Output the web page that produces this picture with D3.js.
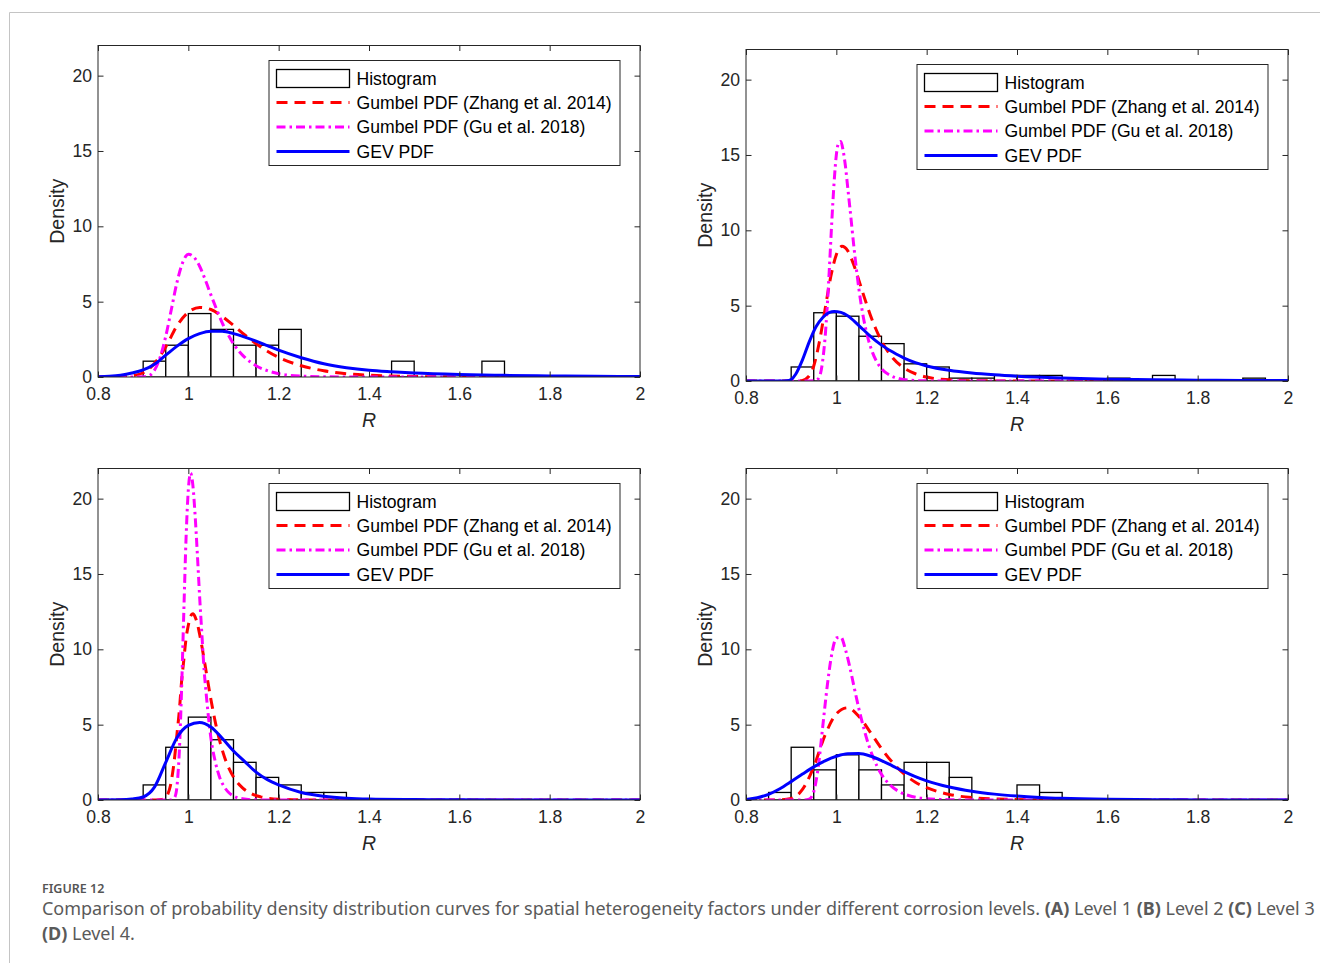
<!DOCTYPE html>
<html>
<head>
<meta charset="utf-8">
<script src="https://cdn.jsdelivr.net/npm/d3@7"></script>
<style>
  body { margin: 0; background: #fff; }
</style>
</head>
<body>
<svg id="fig" width="1320" height="963"></svg>
<script>
// ---------- axis ticks and legend text ----------
const xTicks = [0.8, 1.0, 1.2, 1.4, 1.6, 1.8, 2.0];
const yTicks = [0, 5, 10, 15, 20];
const legendLabels = ["Histogram", "Gumbel PDF (Zhang et al. 2014)", "Gumbel PDF (Gu et al. 2018)", "GEV PDF"];

// ---------- histogram densities (bin width 0.05) ----------
const binWidth = 0.05;
const histStartA = 0.90;
const histA = [1.05, 2.11, 4.21, 3.16, 2.11, 2.11, 3.16, 0, 0, 0, 0, 1.05, 0, 0, 0, 1.05];
const histStartB = 0.90;
const histB = [0.93, 4.53, 4.30, 2.97, 2.48, 1.14, 0.93, 0.19, 0.19, 0.37, 0.37, 0.37, 0, 0, 0.19, 0, 0.37, 0, 0, 0, 0.19];
const histStartC = 0.90;
const histC = [1.0, 3.5, 5.5, 4.0, 2.5, 1.5, 1.0, 0.5, 0.5];
const histStartD = 0.85;
const histD = [0.5, 3.5, 2.0, 3.0, 2.0, 1.0, 2.5, 2.5, 1.5, 0, 0, 1.0, 0.5];

// ---------- Level 1 curves ----------
const zhangA_R = [0.80, 0.85, 0.875, 0.90, 0.925, 0.95, 0.975, 1.00, 1.025, 1.05, 1.075, 1.10, 1.125, 1.15, 1.175, 1.20, 1.25, 1.30, 1.35, 1.40, 1.50, 1.60, 1.80, 2.00];
const zhangA_D = [0, 0.01, 0.08, 0.28, 0.9, 2.0, 3.4, 4.3, 4.62, 4.48, 4.02, 3.42, 2.79, 2.21, 1.71, 1.30, 0.75, 0.41, 0.22, 0.12, 0.035, 0.01, 0, 0];
const guA_R = [0.80, 0.90, 0.915, 0.925, 0.9375, 0.95, 0.9625, 0.975, 0.9875, 1.00, 1.0125, 1.025, 1.0375, 1.05, 1.0625, 1.075, 1.0875, 1.10, 1.1125, 1.125, 1.15, 1.175, 1.20, 1.25, 1.30, 1.40, 2.00];
const guA_D = [0, 0.01, 0.12, 0.45, 1.3, 2.7, 4.5, 6.3, 7.6, 8.15, 7.95, 7.35, 6.45, 5.45, 4.5, 3.6, 2.85, 2.2, 1.7, 1.3, 0.75, 0.42, 0.22, 0.06, 0.015, 0, 0];
const gevA_R = [0.80, 0.825, 0.85, 0.875, 0.90, 0.925, 0.95, 0.975, 1.00, 1.025, 1.05, 1.075, 1.10, 1.125, 1.15, 1.175, 1.20, 1.25, 1.30, 1.35, 1.40, 1.45, 1.50, 1.60, 1.70, 1.80, 1.90, 2.00];
const gevA_D = [0.02, 0.05, 0.12, 0.26, 0.47, 0.85, 1.45, 2.05, 2.55, 2.88, 3.04, 3.03, 2.88, 2.65, 2.38, 2.08, 1.78, 1.28, 0.88, 0.62, 0.45, 0.35, 0.27, 0.17, 0.11, 0.07, 0.045, 0.03];

// ---------- Level 2 curves ----------
const zhangB_R = [0.80, 0.90, 0.925, 0.9375, 0.95, 0.9625, 0.975, 0.9875, 1.00, 1.0125, 1.025, 1.0375, 1.05, 1.0625, 1.075, 1.0875, 1.10, 1.1125, 1.125, 1.15, 1.175, 1.20, 1.25, 1.30, 1.40, 2.00];
const zhangB_D = [0, 0, 0.04, 0.26, 1.0, 2.6, 4.75, 6.9, 8.38, 8.94, 8.65, 7.8, 6.68, 5.5, 4.4, 3.45, 2.66, 2.03, 1.53, 0.86, 0.48, 0.26, 0.08, 0.02, 0, 0];
const guB_R = [0.80, 0.94, 0.95, 0.96, 0.965, 0.97, 0.975, 0.98, 0.985, 0.99, 0.995, 1.00, 1.005, 1.01, 1.015, 1.02, 1.025, 1.03, 1.04, 1.05, 1.06, 1.07, 1.08, 1.09, 1.10, 1.12, 1.14, 1.16, 1.20, 1.30, 2.00];
const guB_D = [0, 0, 0.01, 0.15, 0.5, 1.4, 2.85, 5.0, 7.7, 10.6, 13.15, 15.0, 15.8, 15.9, 15.3, 14.3, 12.9, 11.5, 8.6, 6.1, 4.2, 2.85, 1.9, 1.25, 0.82, 0.36, 0.15, 0.06, 0.01, 0, 0];
const gevB_R = [0.80, 0.88, 0.89, 0.90, 0.91, 0.925, 0.94, 0.955, 0.97, 0.985, 0.995, 1.01, 1.025, 1.05, 1.075, 1.10, 1.125, 1.15, 1.175, 1.20, 1.25, 1.30, 1.35, 1.40, 1.50, 1.60, 1.70, 1.80, 1.90, 2.00];
const gevB_D = [0, 0, 0.01, 0.1, 0.45, 1.4, 2.6, 3.6, 4.22, 4.55, 4.62, 4.55, 4.33, 3.68, 2.98, 2.38, 1.92, 1.52, 1.22, 1.0, 0.71, 0.53, 0.41, 0.32, 0.2, 0.12, 0.08, 0.05, 0.035, 0.025];

// ---------- Level 3 curves ----------
const zhangC_R = [0.80, 0.93, 0.94, 0.95, 0.955, 0.96, 0.965, 0.97, 0.975, 0.98, 0.985, 0.99, 0.995, 1.00, 1.005, 1.01, 1.015, 1.02, 1.025, 1.03, 1.04, 1.05, 1.06, 1.07, 1.08, 1.09, 1.10, 1.12, 1.14, 1.16, 1.20, 1.25, 1.30, 2.00];
const zhangC_D = [0, 0, 0.03, 0.16, 0.42, 0.91, 1.75, 2.92, 4.42, 5.9, 7.85, 9.3, 10.73, 11.6, 12.2, 12.36, 12.16, 11.7, 11.0, 10.2, 8.42, 6.67, 5.13, 3.86, 2.86, 2.1, 1.53, 0.8, 0.41, 0.21, 0.056, 0.01, 0, 0];
const guC_R = [0.80, 0.96, 0.965, 0.97, 0.975, 0.98, 0.985, 0.99, 0.995, 1.00, 1.005, 1.01, 1.015, 1.02, 1.025, 1.03, 1.035, 1.04, 1.05, 1.06, 1.07, 1.08, 1.09, 1.10, 1.12, 1.15, 1.20, 2.00];
const guC_D = [0, 0, 0.05, 0.18, 0.95, 3.2, 7.3, 12.5, 17.4, 20.6, 21.7, 20.9, 18.9, 16.3, 13.5, 11.0, 8.6, 6.9, 4.1, 2.5, 1.45, 0.85, 0.48, 0.27, 0.08, 0.01, 0, 0];
const gevC_R = [0.80, 0.85, 0.875, 0.90, 0.925, 0.95, 0.975, 1.00, 1.025, 1.05, 1.075, 1.10, 1.125, 1.15, 1.175, 1.20, 1.25, 1.30, 1.35, 1.40, 1.50, 1.60, 1.80, 2.00];
const gevC_D = [0, 0.01, 0.06, 0.2, 0.85, 2.5, 4.15, 4.95, 5.15, 4.85, 4.1, 3.25, 2.55, 1.85, 1.35, 1.0, 0.5, 0.25, 0.12, 0.06, 0.025, 0.01, 0, 0];

// ---------- Level 4 curves ----------
const zhangD_R = [0.80, 0.85, 0.875, 0.90, 0.925, 0.95, 0.975, 1.00, 1.025, 1.05, 1.075, 1.10, 1.125, 1.15, 1.175, 1.20, 1.25, 1.30, 1.35, 1.40, 1.50, 1.60, 2.00];
const zhangD_D = [0, 0, 0.01, 0.1, 0.7, 2.2, 4.3, 5.72, 6.12, 5.55, 4.51, 3.41, 2.47, 1.73, 1.18, 0.82, 0.37, 0.16, 0.07, 0.03, 0.006, 0, 0];
const guD_R = [0.80, 0.93, 0.94, 0.95, 0.96, 0.97, 0.98, 0.99, 1.00, 1.01, 1.02, 1.03, 1.04, 1.05, 1.06, 1.07, 1.08, 1.09, 1.10, 1.12, 1.14, 1.16, 1.18, 1.20, 1.25, 1.30, 2.00];
const guD_D = [0, 0, 0.06, 0.55, 2.2, 4.9, 7.6, 9.7, 10.75, 10.8, 10.0, 8.8, 7.4, 6.05, 4.85, 3.8, 2.95, 2.25, 1.7, 0.97, 0.54, 0.3, 0.16, 0.09, 0.02, 0, 0];
const gevD_R = [0.80, 0.825, 0.85, 0.875, 0.90, 0.925, 0.95, 0.975, 1.00, 1.025, 1.05, 1.075, 1.10, 1.125, 1.15, 1.175, 1.20, 1.25, 1.30, 1.35, 1.40, 1.45, 1.50, 1.60, 1.70, 1.80, 1.90, 2.00];
const gevD_D = [0.04, 0.15, 0.38, 0.75, 1.22, 1.72, 2.2, 2.6, 2.9, 3.07, 3.08, 2.92, 2.62, 2.25, 1.88, 1.55, 1.27, 0.86, 0.58, 0.39, 0.26, 0.17, 0.11, 0.045, 0.018, 0.007, 0.002, 0];

// ---------- panel placement ----------
const panels = [
  { x0: 98,  x1: 640,  y0: 45.5,  y1: 377,   histStart: histStartA, hist: histA,
    curves: [[zhangA_R, zhangA_D], [guA_R, guA_D], [gevA_R, gevA_D]] },
  { x0: 746, x1: 1288, y0: 49.5,  y1: 381,   histStart: histStartB, hist: histB,
    curves: [[zhangB_R, zhangB_D], [guB_R, guB_D], [gevB_R, gevB_D]] },
  { x0: 98,  x1: 640,  y0: 468.5, y1: 800,   histStart: histStartC, hist: histC,
    curves: [[zhangC_R, zhangC_D], [guC_R, guC_D], [gevC_R, gevC_D]] },
  { x0: 746, x1: 1288, y0: 468.5, y1: 800,   histStart: histStartD, hist: histD,
    curves: [[zhangD_R, zhangD_D], [guD_R, guD_D], [gevD_R, gevD_D]] }
];

const curveStyles = [
  { color: "#ff0000", dash: "11,7" },        // Gumbel (Zhang)
  { color: "#ff00ff", dash: "9,4,2.5,4" },   // Gumbel (Gu)
  { color: "#0000ff", dash: null }           // GEV
];

const axFont = "'Liberation Sans', Arial, Helvetica, sans-serif";
const axColor = "#262626";
const tickFs = 17.6;

const svg = d3.select("#fig");
svg.append("rect").attr("width", 1320).attr("height", 963).attr("fill", "#fff");

// page frame
svg.append("path")
  .attr("d", "M9.5,963 L9.5,12.5 L1320,12.5")
  .attr("fill", "none").attr("stroke", "#c4c4c4").attr("stroke-width", 1);

panels.forEach((p, idx) => {
  const x = d3.scaleLinear().domain([0.8, 2.0]).range([p.x0, p.x1]);
  const y = d3.scaleLinear().domain([0, 22]).range([p.y1, p.y0]);
  const g = svg.append("g");

  const clipId = "clip" + idx;
  svg.append("clipPath").attr("id", clipId)
    .append("rect").attr("x", p.x0).attr("y", p.y0)
    .attr("width", p.x1 - p.x0).attr("height", p.y1 - p.y0);

  const plot = g.append("g").attr("clip-path", `url(#${clipId})`);

  // histogram bars
  const bars = p.hist.map((v, i) => ({ lo: p.histStart + i * binWidth, v }))
    .filter(d => d.v > 0);
  plot.selectAll("rect.bar").data(bars).join("rect")
    .attr("class", "bar")
    .attr("x", d => x(d.lo))
    .attr("width", d => x(d.lo + binWidth) - x(d.lo))
    .attr("y", d => y(d.v))
    .attr("height", d => y(0) - y(d.v))
    .attr("fill", "#fff").attr("stroke", "#000").attr("stroke-width", 1.3);

  // density curves
  const line = d3.line().x(d => x(d[0])).y(d => y(d[1])).curve(d3.curveMonotoneX);
  p.curves.forEach((c, k) => {
    const st = curveStyles[k];
    plot.append("path")
      .datum(d3.zip(c[0], c[1]))
      .attr("d", line)
      .attr("fill", "none")
      .attr("stroke", st.color)
      .attr("stroke-width", 3)
      .attr("stroke-dasharray", st.dash)
      .attr("stroke-linejoin", "round");
  });

  // axes with inward ticks on all four sides
  const fmt = d3.format("~g");
  const styleAxis = sel => {
    sel.select(".domain").remove();
    sel.selectAll(".tick line").attr("stroke", axColor).attr("stroke-width", 1);
    sel.selectAll(".tick text").attr("fill", axColor)
      .attr("font-family", axFont).attr("font-size", tickFs);
  };
  g.append("g").attr("transform", `translate(0,${p.y1})`)
    .call(d3.axisBottom(x).tickValues(xTicks).tickFormat(fmt).tickSizeInner(-5.5).tickSizeOuter(0).tickPadding(10.5))
    .call(styleAxis);
  g.append("g").attr("transform", `translate(0,${p.y0})`)
    .call(d3.axisTop(x).tickValues(xTicks).tickFormat("").tickSizeInner(-5.5).tickSizeOuter(0))
    .call(styleAxis);
  g.append("g").attr("transform", `translate(${p.x0},0)`)
    .call(d3.axisLeft(y).tickValues(yTicks).tickFormat(fmt).tickSizeInner(-5.5).tickSizeOuter(0).tickPadding(6))
    .call(styleAxis);
  g.append("g").attr("transform", `translate(${p.x1},0)`)
    .call(d3.axisRight(y).tickValues(yTicks).tickFormat("").tickSizeInner(-5.5).tickSizeOuter(0))
    .call(styleAxis);

  // axes box
  g.append("rect")
    .attr("x", p.x0).attr("y", p.y0)
    .attr("width", p.x1 - p.x0).attr("height", p.y1 - p.y0)
    .attr("fill", "none").attr("stroke", axColor).attr("stroke-width", 1);

  // axis titles
  g.append("text")
    .attr("transform", `translate(${p.x0 - 41},${(p.y0 + p.y1) / 2}) rotate(-90)`)
    .attr("text-anchor", "middle").attr("dominant-baseline", "central")
    .attr("font-family", axFont).attr("font-size", 19.5).attr("fill", axColor)
    .text("Density");
  g.append("text")
    .attr("x", (p.x0 + p.x1) / 2).attr("y", p.y1 + 43)
    .attr("text-anchor", "middle").attr("dominant-baseline", "central")
    .attr("font-family", axFont).attr("font-size", 19.5).attr("font-style", "italic")
    .attr("fill", axColor)
    .text("R");

  // legend
  const lx = p.x1 - 371, ly = p.y0 + 15;
  const lg = g.append("g");
  lg.append("rect").attr("x", lx).attr("y", ly).attr("width", 351).attr("height", 105)
    .attr("fill", "#fff").attr("stroke", axColor).attr("stroke-width", 1);
  const rowY = [18, 42, 66.5, 91];
  legendLabels.forEach((lab, k) => {
    const cy = ly + rowY[k];
    if (k === 0) {
      lg.append("rect").attr("x", lx + 7.5).attr("y", cy - 9)
        .attr("width", 73).attr("height", 18)
        .attr("fill", "#fff").attr("stroke", "#000").attr("stroke-width", 1.3);
    } else {
      const st = curveStyles[k - 1];
      lg.append("line")
        .attr("x1", lx + 7.5).attr("x2", lx + 80.5)
        .attr("y1", cy).attr("y2", cy)
        .attr("stroke", st.color).attr("stroke-width", 3)
        .attr("stroke-dasharray", st.dash);
    }
    lg.append("text")
      .attr("x", lx + 87.5).attr("y", cy)
      .attr("dominant-baseline", "central")
      .attr("font-family", axFont).attr("font-size", tickFs).attr("fill", "#000")
      .text(lab);
  });
});

// ---------- caption ----------
const capFont = "'Noto Sans', 'Open Sans', sans-serif";
svg.append("text")
  .attr("x", 42).attr("y", 892.5)
  .attr("font-family", capFont).attr("font-size", 12.5).attr("font-weight", 600)
  .attr("fill", "#555").text("FIGURE 12");

function captionLine(yPos, parts, targetWidth) {
  const t = svg.append("text")
    .attr("x", 42).attr("y", yPos)
    .attr("font-family", capFont).attr("font-size", 17).attr("fill", "#5a5a5a");
  parts.forEach(pt => {
    t.append("tspan").attr("font-weight", pt.b ? 700 : 400).text(pt.s);
  });
  if (targetWidth) {
    const w = t.node().getComputedTextLength();
    t.attr("font-size", 17 * targetWidth / w);
  }
  return t;
}
const line1 = captionLine(915, [
  { s: "Comparison of probability density distribution curves for spatial heterogeneity factors under different corrosion levels. " },
  { s: "(A)", b: true }, { s: " Level 1 " },
  { s: "(B)", b: true }, { s: " Level 2 " },
  { s: "(C)", b: true }, { s: " Level 3" }
], 1274);
const fs1 = +line1.attr("font-size");
const line2 = captionLine(939.5, [{ s: "(D)", b: true }, { s: " Level 4." }], null);
line2.attr("font-size", fs1);
</script>
</body>
</html>
